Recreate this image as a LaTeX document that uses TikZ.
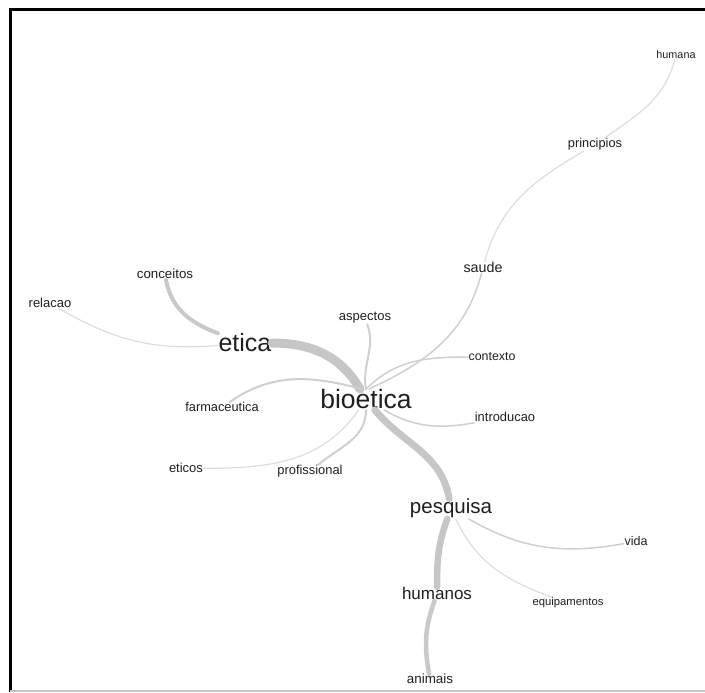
\documentclass[tikz,border=0pt]{standalone}
\usepackage{fontspec}
\setmainfont{Liberation Sans}
\usetikzlibrary{positioning}

\begin{document}
\begin{tikzpicture}[
  x=1pt, y=1pt,
  word/.style = {anchor=base, inner sep=0.5pt, text=black!88,
                 font=\fontsize{#1}{#1}\selectfont},
  lnk/.style  = {draw=gray!38, line width=#1, line cap=round},
  fnt/.style  = {draw=gray!27, line width=#1, line cap=round}
]
\useasboundingbox (0,0) rectangle (705,693);
%% -- Frame --
\draw[line width=3pt] (10,1) -- (10,683) -- (705,683);
\draw[gray!45, line width=2pt] (10,1.5) -- (705,1.5);
%% -- Words --
\node[word=26.5] (bio) at (366,284) {bioetica};
\node[word=25]   (eti) at (245,341) {etica};
\node[word=20.5] (pes) at (451,179) {pesquisa};
\node[word=17]   (hum) at (437,93)  {humanos};
\node[word=14.3] (sau) at (483,420) {saude};
\node[word=13.3] (con) at (165,414) {conceitos};
\node[word=13]   (rel) at (50,385)  {relacao};
\node[word=13]   (asp) at (365,372) {aspectos};
\node[word=12.4] (ctx) at (492,332) {contexto};
\node[word=12.8] (far) at (222,281) {farmaceutica};
\node[word=12.9] (int) at (505,271) {introducao};
\node[word=13]   (etc) at (186,220) {eticos};
\node[word=12.9] (pro) at (310,218) {profissional};
\node[word=12.5] (vid) at (636,147) {vida};
\node[word=11.3] (equ) at (568,87)  {equipamentos};
\node[word=13.4] (ani) at (430,9)   {animais};
\node[word=12.8] (pri) at (595,545) {principios};
\node[word=10.8] (hmn) at (676,634) {humana};
%% -- Strong links --
\draw[lnk=9, draw=gray!45]   (eti) to[out=0,in=120] (bio);
\draw[lnk=7, draw=gray!45]   (bio) to[out=-50,in=100] (pes);
\draw[lnk=6.5, draw=gray!45] (pes) to[out=-110,in=90] (hum);
\draw[lnk=4.5, draw=gray!42] (hum) to[out=-110,in=100] (ani);
\draw[lnk=4, draw=gray!42]   (eti) to[out=160,in=-80] (con);
%% -- Weak links --
\draw[lnk=2]   (bio.north) to[out=100,in=-70] (asp);
\draw[lnk=2]   ([xshift=-4pt]bio.north) to[out=165,in=35] (far);
\draw[lnk=2]   (bio) to[out=-90,in=40] (pro);
\draw[lnk=1.5] ([xshift=3pt]bio.north) to[out=25,in=-105] (sau);
\draw[lnk=1.5] (bio.north) to[out=45,in=180] (ctx);
\draw[lnk=1.5] (bio) to[out=-30,in=190] (int);
\draw[lnk=1.5] (pes) to[out=-30,in=190] (vid);
\draw[fnt=1.2] (pes) to[out=-65,in=160] (equ);
\draw[fnt=1.2] (bio) to[out=235,in=0] (etc);
\draw[fnt=1.2] (eti) to[out=185,in=-30] (rel);
\draw[fnt=1.2] (sau) to[out=75,in=-150] (pri);
\draw[fnt=1.2] (pri) to[out=35,in=-105] (hmn);
\end{tikzpicture}
\end{document}
